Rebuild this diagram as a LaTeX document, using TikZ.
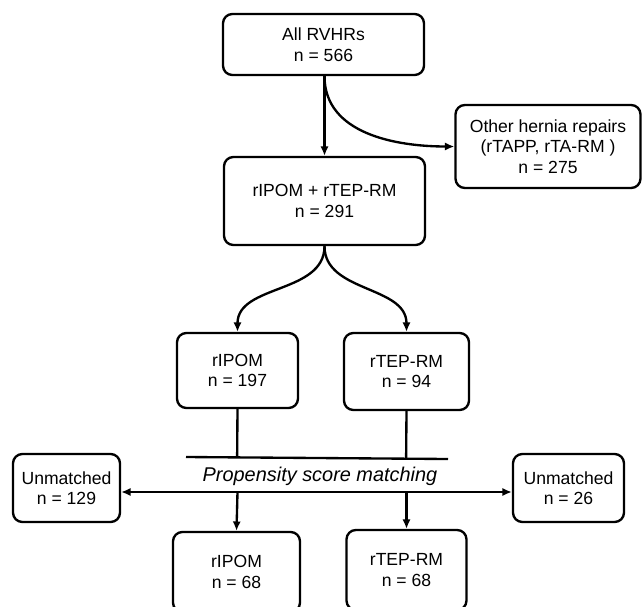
\documentclass[tikz,border=0pt]{standalone}
\usepackage{fontspec}
\setmainfont{Liberation Sans}
\usepackage{tikz}
\usetikzlibrary{arrows.meta}
\usetikzlibrary{calc}

\begin{document}
\begin{tikzpicture}[x=0.03cm, y=-0.03cm, line width=2pt,
        box_style/.style={draw=black, rounded corners=8pt, align=center, inner sep=2pt,
            font=\fontsize{15}{17.5}\selectfont},
        arrow_style/.style={draw=black, -{Latex[length=8pt,width=7pt]}},
        line_style/.style={draw=black, -}]

        \useasboundingbox (0,0) rectangle (643,606);
        \clip (0,0) rectangle (643,606);

        \node [box_style, minimum width=201*0.03cm, minimum height=61*0.03cm](all) at (323.5,44.5) {All RVHRs\\n = 566};
        \node [box_style, minimum width=201*0.03cm, minimum height=88*0.03cm](both) at (324.5,201) {rIPOM + rTEP-RM\\n = 291};
        \node [box_style, minimum width=185*0.03cm, minimum height=83*0.03cm](other) at (548,146.5) {Other hernia repairs\\(rTAPP, rTA-RM )\\n = 275};
        \node [box_style, minimum width=121*0.03cm, minimum height=75*0.03cm](ipom) at (237.5,370.5) {rIPOM\\n = 197};
        \node [box_style, minimum width=125*0.03cm, minimum height=77*0.03cm](tep) at (406.5,371.5) {rTEP-RM\\n = 94};
        \node [box_style, minimum width=107*0.03cm, minimum height=68*0.03cm](unl) at (66.5,488) {Unmatched\\n = 129};
        \node [box_style, minimum width=111*0.03cm, minimum height=68*0.03cm](unr) at (568.5,488) {Unmatched\\n = 26};
        \node [box_style, minimum width=127*0.03cm, minimum height=80*0.03cm](ipomm) at (236.5,572) {rIPOM\\n = 68};
        \node [box_style, minimum width=120*0.03cm, minimum height=80*0.03cm](tepm) at (406.5,570) {rTEP-RM\\n = 68};

        \coordinate (bar_l) at (186,457);
        \coordinate (bar_r) at (448,459);
        \node [font=\itshape\fontsize{17}{19}\selectfont](psm) at (320,476) {Propensity score matching};
        \coordinate (split_l) at (ipom.south |- 0,492);
        \coordinate (split_r) at (tep.south |- 0,492);

        \draw [arrow_style] (all.south -| both.north) -- (both.north);
        \draw [arrow_style] (all.south -| both.north) to[out=-90, in=180] (other.west);
        \draw [arrow_style] (both.south) to[out=-90, in=90] (ipom.north);
        \draw [arrow_style] (both.south) to[out=-90, in=90] (tep.north);
        \draw [line_style] (bar_l) -- (bar_r);
        \draw [line_style] (ipom.south) -- ($(bar_l)!(ipom.south)!(bar_r)$);
        \draw [line_style] (tep.south) -- ($(bar_l)!(tep.south)!(bar_r)$);
        \draw [arrow_style, {Latex[length=8pt,width=7pt]}-{Latex[length=8pt,width=7pt]}] (unl.east |- 0,492) -- (unr.west |- 0,492);
        \draw [arrow_style] (split_l) -- (ipomm.north);
        \draw [arrow_style] (split_r) -- (tepm.north);
        \end{tikzpicture}
\end{document}
